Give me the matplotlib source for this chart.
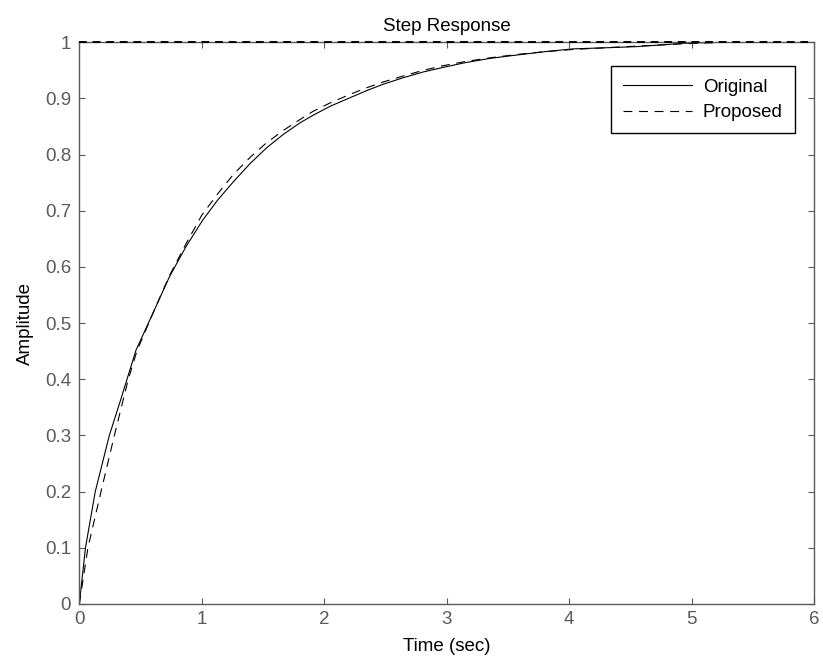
import numpy as np
import matplotlib
matplotlib.use("Agg")
import matplotlib.pyplot as plt

plt.rcParams['font.family'] = ['Liberation Sans', 'DejaVu Sans']

# step response of the original system
t_orig = [0, 0.05, 0.13, 0.245, 0.34, 0.463, 0.6, 0.735, 0.871, 1.007, 1.13,
          1.26, 1.395, 1.53, 1.667, 1.8, 1.91, 2.05, 2.21, 2.35, 2.48, 2.65, 2.81,
          2.97, 3.14, 3.35, 3.57, 3.8, 4.03, 4.3, 4.55, 4.75, 4.93, 5.3, 6.0]
y_orig = [0, 0.1, 0.2, 0.3, 0.365, 0.452, 0.517, 0.582, 0.636, 0.683, 0.719,
          0.752, 0.784, 0.812, 0.836, 0.856, 0.870, 0.886, 0.901, 0.914, 0.925, 0.937, 0.947,
          0.955, 0.963, 0.971, 0.977, 0.983, 0.988, 0.99, 0.992, 0.995, 0.998, 1.0, 1.0]

# step response of the proposed system
t_prop = [0, 0.07, 0.177, 0.286, 0.40, 0.47, 0.6, 0.735, 0.871, 1.0, 1.13,
          1.26, 1.4, 1.53, 1.667, 1.8, 1.91, 2.05, 2.21, 2.35, 2.48, 2.65, 2.81,
          2.97, 3.14, 3.35, 3.57, 3.8, 4.03, 4.3, 4.55, 4.75, 4.93, 5.3, 6.0]
y_prop = [0, 0.1, 0.2, 0.3, 0.4, 0.45, 0.517, 0.584, 0.641, 0.692, 0.73,
          0.765, 0.796, 0.821, 0.843, 0.862, 0.877, 0.892, 0.907, 0.919, 0.929, 0.94, 0.95,
          0.958, 0.965, 0.972, 0.978, 0.983, 0.987, 0.99, 0.993, 0.995, 0.997, 1.0, 1.0]

final_value = 1.0

xticks = [0, 1, 2, 3, 4, 5, 6]
yticks = [0, 0.1, 0.2, 0.3, 0.4, 0.5, 0.6, 0.7, 0.8, 0.9, 1]
ytick_labels = ['0', '0.1', '0.2', '0.3', '0.4', '0.5', '0.6', '0.7', '0.8', '0.9', '1']

fig = plt.figure(figsize=(8.23, 6.69), dpi=100)
ax = fig.add_axes([0.0964, 0.0972, 0.8926, 0.8398])

ax.plot(t_orig, y_orig, color='k', lw=0.8, label='Original')
ax.plot(t_prop, y_prop, color='k', lw=0.8, ls=(0, (8, 6)), label='Proposed')
ax.axhline(final_value, color='k', lw=1.4, ls=(0, (4, 3)), clip_on=False, zorder=5)

ax.set_xlim(0, 6)
ax.set_ylim(0, 1)
ax.set_xticks(xticks)
ax.set_xticklabels([str(v) for v in xticks])
ax.set_yticks(yticks)
ax.set_yticklabels(ytick_labels)

gray = '#5a5a5a'
for s in ax.spines.values():
    s.set_color(gray)
    s.set_linewidth(1.0)
ax.tick_params(direction='in', length=4.5, width=0.8, colors=gray,
               labelsize=13.5, top=True, right=True, pad=5)
ax.tick_params(axis='y', pad=6)

ax.set_title('Step Response', fontsize=13.5, pad=8)
ax.set_xlabel('Time (sec)', fontsize=13.5, labelpad=7)
ax.set_ylabel('Amplitude', fontsize=13.5, labelpad=8)

leg = ax.legend(loc='upper right', bbox_to_anchor=(0.974, 0.957), borderaxespad=0,
                fontsize=13.5, fancybox=False, framealpha=1, edgecolor='k',
                handlelength=3.7, handletextpad=0.55, labelspacing=0.45,
                borderpad=0.65)
leg.get_frame().set_linewidth(1.0)

fig.savefig('out.png', dpi=100)
